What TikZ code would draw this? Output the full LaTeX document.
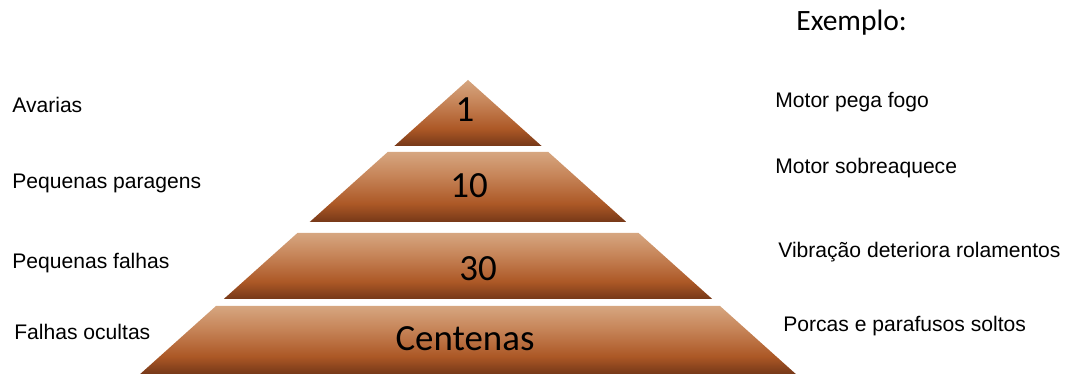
\documentclass[tikz,border=0pt]{standalone}
\usepackage{fontspec}
\setmainfont{Liberation Sans}
\newfontfamily\calibrifont{Carlito}
\usepackage{tikz}

\definecolor{tierlight}{RGB}{214,166,128}
\definecolor{tiertan}{RGB}{198,132,88}
\definecolor{tierorange}{RGB}{172,88,38}
\definecolor{tierdark}{RGB}{118,56,24}
\pgfdeclareverticalshading{tiershade}{100bp}{color(0bp)=(tierdark); color(25bp)=(tierdark); color(38bp)=(tierorange); color(58bp)=(tiertan); color(75bp)=(tierlight); color(100bp)=(tierlight)}

\begin{document}
\begin{tikzpicture}[
    tier/.style={shading=tiershade, draw=none},
    count/.style={anchor=base, inner sep=0pt, font=\calibrifont\fontsize{21}{24}\selectfont},
    cause/.style={anchor=base west, inner sep=0pt, font=\fontsize{12}{14}\selectfont}
]
    \useasboundingbox (0,0) rectangle (21.44,7.48);

    \shade[tier] (9.36,5.88) -- (7.888,4.56) -- (10.832,4.56) -- cycle;
    \shade[tier] (7.754,4.44) -- (10.966,4.44) -- (12.526,3.04) -- (6.194,3.04) -- cycle;
    \shade[tier] (5.948,2.82) -- (12.772,2.82) -- (14.244,1.50) -- (4.476,1.50) -- cycle;
    \shade[tier] (4.32,1.36) -- (14.40,1.36) -- (15.916,0) -- (2.804,0) -- cycle;

    \node[count] (n1) at (9.30,5.04) {1};
    \node[count] (n10) at (9.38,3.52) {10};
    \node[count] (n30) at (9.56,1.86) {30};
    \node[count] (centenas) at (9.30,0.46) {Centenas};

    \node[anchor=base west, inner sep=0pt, font=\calibrifont\fontsize{16.8}{20}\selectfont] (exemplo) at (15.92,6.86) {Exemplo:};

    \node[cause] (avarias) at (0.24,5.22) {Avarias};
    \node[cause] (paragens) at (0.24,3.70) {Pequenas paragens};
    \node[cause] (falhas) at (0.24,2.10) {Pequenas falhas};
    \node[cause] (ocultas) at (0.28,0.68) {Falhas ocultas};

    \node[cause] (fogo) at (15.50,5.32) {Motor pega fogo};
    \node[cause] (sobreaquece) at (15.50,4.00) {Motor sobreaquece};
    \node[cause] (vibracao) at (15.56,2.32) {Vibração deteriora rolamentos};
    \node[cause] (porcas) at (15.66,0.84) {Porcas e parafusos soltos};

\end{tikzpicture}
\end{document}
